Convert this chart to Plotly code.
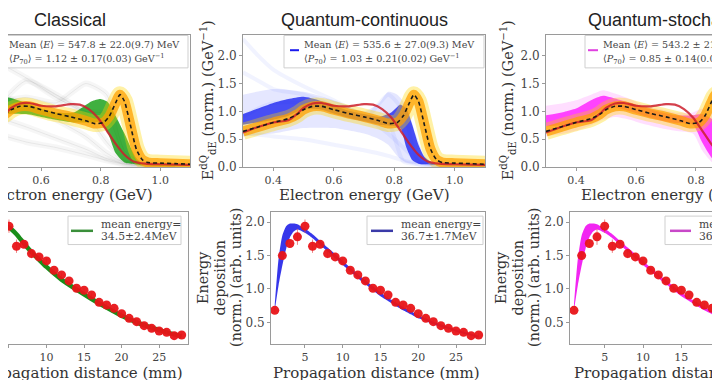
import plotly.graph_objects as go

W, H = 720, 380

# ---------------- top row: electron spectra ----------------
energy_exp = [0.30, 0.35, 0.40, 0.45, 0.48, 0.50, 0.53, 0.56, 0.60, 0.65, 0.70, 0.75, 0.78,
              0.81, 0.83, 0.85, 0.865, 0.88, 0.90, 0.92, 0.94, 0.96, 1.00, 1.05, 1.10]
spectrum_exp = [0.64, 0.72, 0.80, 0.87, 0.95, 1.03, 1.09, 1.09, 1.03, 0.96, 0.90, 0.83, 0.78,
                0.80, 0.92, 1.15, 1.30, 1.18, 0.75, 0.32, 0.13, 0.08, 0.07, 0.06, 0.05]

energy_ref = [0.30, 0.35, 0.40, 0.45, 0.48, 0.50, 0.53, 0.56, 0.60, 0.65, 0.70, 0.73, 0.76,
              0.79, 0.82, 0.85, 0.88, 0.91, 0.95, 1.00, 1.10]
spectrum_ref = [0.62, 0.72, 0.80, 0.84, 0.96, 1.06, 1.14, 1.15, 1.10, 1.09, 1.13, 1.12, 1.04,
                0.89, 0.66, 0.42, 0.22, 0.10, 0.06, 0.05, 0.04]

# classical ensemble
cl_energy_grey = [0.45, 0.55, 0.65, 0.75, 0.82, 0.88, 0.95, 1.05]
cl_grey_1 = [1.90, 1.60, 1.25, 0.95, 0.45, 0.12, 0.04, 0.02]
cl_grey_2 = [1.30, 1.12, 0.85, 0.55, 0.25, 0.08, 0.03, 0.02]
cl_grey_3 = [0.90, 0.72, 0.52, 0.32, 0.15, 0.06, 0.02, 0.02]
cl_grey_4 = [1.15, 1.25, 1.15, 1.50, 1.30, 0.30, 0.05, 0.02]
cl_grey_5 = [1.05, 1.55, 1.30, 1.00, 0.95, 0.20, 0.04, 0.02]
cl_grey_6 = [0.60, 0.45, 0.35, 0.22, 0.12, 0.05, 0.02, 0.01]
cl_energy = [0.45, 0.49, 0.55, 0.60, 0.65, 0.71, 0.77, 0.80, 0.825, 0.85, 0.88, 0.915, 0.94, 1.00, 1.10]
cl_upper = [1.20, 1.25, 1.15, 1.05, 0.98, 0.98, 1.18, 1.22, 1.16, 0.92, 0.60, 0.20, 0.06, 0.04, 0.04]
cl_lower = [0.85, 0.95, 0.95, 0.90, 0.85, 0.80, 0.80, 0.80, 0.60, 0.25, 0.08, 0.05, 0.03, 0.02, 0.02]

# quantum-continuous ensemble
qc_energy = [0.30, 0.35, 0.40, 0.45, 0.50, 0.55, 0.60, 0.65, 0.70, 0.75, 0.79, 0.82, 0.84,
             0.86, 0.88, 0.90, 0.93, 1.00, 1.10]
qc_upper = [0.95, 1.05, 1.15, 1.22, 1.26, 1.20, 1.10, 1.01, 0.95, 0.90, 0.98, 1.12, 1.05,
            0.75, 0.40, 0.18, 0.07, 0.04, 0.03]
qc_lower = [0.76, 0.80, 0.85, 0.92, 1.04, 1.04, 0.96, 0.88, 0.82, 0.76, 0.74, 0.70, 0.35,
            0.12, 0.06, 0.05, 0.04, 0.03, 0.02]
qc_energy_wide = [0.30, 0.40, 0.50, 0.60, 0.70, 0.75, 0.78, 0.81, 0.84, 0.87, 0.90, 0.93, 1.00, 1.10]
qc_wide_upper = [1.30, 1.40, 1.35, 1.20, 1.00, 1.15, 1.35, 1.30, 1.10, 0.60, 0.20, 0.06, 0.04, 0.03]
qc_wide_lower = [0.55, 0.60, 0.70, 0.70, 0.60, 0.50, 0.40, 0.20, 0.08, 0.05, 0.04, 0.03, 0.02, 0.02]
qc_energy_lines = [0.30, 0.35, 0.40, 0.50, 0.60, 0.70, 0.78, 0.83, 0.88, 0.95, 1.10]
qc_line_1 = [2.30, 2.00, 1.75, 1.45, 1.20, 0.90, 0.60, 0.35, 0.10, 0.03, 0.02]
qc_line_2 = [1.70, 1.55, 1.40, 1.30, 1.10, 0.85, 1.30, 1.00, 0.10, 0.03, 0.02]
qc_line_3 = [0.60, 0.58, 0.55, 0.50, 0.40, 0.30, 0.20, 0.12, 0.05, 0.02, 0.02]
qc_line_4 = [0.90, 1.05, 1.15, 1.15, 1.00, 0.88, 0.80, 0.10, 0.05, 0.03, 0.02]

# quantum-stochastic ensemble
qs_energy = [0.30, 0.36, 0.40, 0.45, 0.49, 0.53, 0.58, 0.62, 0.68, 0.73, 0.79, 0.82, 0.855,
             0.89, 0.92, 0.96, 1.00, 1.10]
qs_upper = [0.93, 0.99, 1.05, 1.20, 1.28, 1.23, 1.15, 1.08, 0.99, 0.93, 0.93, 0.95, 0.85,
            0.45, 0.15, 0.06, 0.04, 0.03]
qs_lower = [0.73, 0.76, 0.81, 0.90, 1.03, 1.07, 1.00, 0.93, 0.84, 0.79, 0.76, 0.45, 0.15,
            0.06, 0.04, 0.03, 0.02, 0.02]
qs_wide_upper = [1.10, 1.15, 1.20, 1.30, 1.38, 1.32, 1.22, 1.12, 1.04, 0.98, 0.98, 1.05, 1.00,
                 0.70, 0.30, 0.08, 0.05, 0.04]
qs_wide_lower = [0.55, 0.60, 0.65, 0.75, 0.85, 0.90, 0.85, 0.78, 0.70, 0.65, 0.60, 0.30, 0.08,
                 0.04, 0.03, 0.02, 0.02, 0.02]

# ---------------- bottom row: energy deposition ----------------
distance_exp = list(range(1, 29))
edep_exp = [0.68, 1.50, 1.68, 1.78, 1.94, 1.64, 1.67, 1.53, 1.48, 1.42, 1.28, 1.21, 1.12, 1.01,
            0.98, 0.91, 0.80, 0.76, 0.71, 0.63, 0.56, 0.51, 0.45, 0.41, 0.37, 0.35, 0.30, 0.31]
edep_err = [0.03, 0.05, 0.06, 0.12, 0.10, 0.10, 0.06, 0.07, 0.04, 0.04, 0.03, 0.03, 0.03, 0.03,
            0.03, 0.03, 0.03, 0.03, 0.03, 0.03, 0.03, 0.03, 0.03, 0.03, 0.03, 0.03, 0.03, 0.03]

distance_model = [1, 1.5, 2, 2.5, 3, 3.5, 4, 5, 6, 7, 8, 9, 10, 11, 12, 13, 14, 15, 16, 17, 18,
                  19, 20, 21, 22, 23, 24, 25, 26, 27, 28]
qc_edep_upper = [0.78, 1.45, 1.80, 1.94, 1.98, 1.98, 1.97, 1.90, 1.82, 1.72, 1.62, 1.52, 1.42,
                 1.32, 1.22, 1.13, 1.04, 0.95, 0.87, 0.80, 0.73, 0.67, 0.61, 0.56, 0.51, 0.47,
                 0.43, 0.39, 0.36, 0.33, 0.30]
qc_edep_lower = [0.68, 1.05, 1.35, 1.60, 1.77, 1.86, 1.89, 1.84, 1.76, 1.66, 1.56, 1.46, 1.36,
                 1.26, 1.16, 1.07, 0.98, 0.89, 0.82, 0.75, 0.68, 0.62, 0.56, 0.52, 0.47, 0.43,
                 0.40, 0.36, 0.33, 0.30, 0.27]
qs_edep_upper = qc_edep_upper
qs_edep_lower = qc_edep_lower
distance_cl = [1, 2, 3, 4, 5, 6, 7, 8, 9, 10, 12, 14, 16, 18, 20, 22, 24, 26, 28]
cl_edep = [0.70, 1.55, 1.85, 1.95, 1.92, 1.82, 1.68, 1.55, 1.44, 1.33, 1.14, 0.99, 0.85, 0.72,
           0.60, 0.50, 0.42, 0.35, 0.29]

titles = ["Classical", "Quantum-continuous", "Quantum-stochastic"]
stats_E = ["547.8 ± 22.0(9.7)", "535.6 ± 27.0(9.3)", "543.2 ± 21.0(9.1)"]
stats_P = ["1.12 ± 0.17(0.03)", "1.03 ± 0.21(0.02)", "0.85 ± 0.14(0.02)"]
mean_energy = ["34.5±2.4MeV", "36.7±1.7MeV", "36.7±1.7MeV"]
energy_ticks = [0.4, 0.6, 0.8, 1.0]
dist_ticks = [5, 10, 15, 20, 25]

# ---------------- layout geometry (pixels) ----------------
TOP = (27, 162)
BOT = (208, 342)
panels = {
    "1": (0, 182, [0.489, 1.1], "top"),
    "2": (235, 477, [0.3, 1.1], "top"),
    "3": (538, 720, [0.3, 0.9067], "top"),
    "4": (0, 180, [4.87, 28.84], "bot"),
    "5": (263, 477, [0.5, 28.84], "bot"),
    "6": (562, 720, [0.48, 21.08], "bot"),
}


def px(x):
    return x / W


def py(y):
    return 1 - y / H


SERIF = "DejaVu Serif"
SANS = "Liberation Sans, Arial"
SPINE = "#9a9a9a"

fig = go.Figure()


def ax(n):
    return dict(xaxis="x" if n == "1" else "x" + n, yaxis="y" if n == "1" else "y" + n)


def band(n, x, lo, hi, color):
    fig.add_trace(go.Scatter(x=x + x[::-1], y=hi + lo[::-1], fill="toself", fillcolor=color,
                             mode="lines", line=dict(width=0, shape="spline", smoothing=0.6),
                             hoverinfo="skip", showlegend=False, **ax(n)))


def line(n, x, y, color, width, dash=None, shape="spline"):
    fig.add_trace(go.Scatter(x=x, y=y, mode="lines",
                             line=dict(color=color, width=width, dash=dash, shape=shape, smoothing=0.6),
                             hoverinfo="skip", showlegend=False, **ax(n)))


def common_top(n):
    line(n, energy_exp, spectrum_exp, "rgba(255,215,0,0.35)", 17)
    line(n, energy_exp, spectrum_exp, "rgba(255,160,0,0.75)", 10)
    line(n, energy_ref, spectrum_ref, "rgba(205,30,45,0.85)", 2.2)
    line(n, energy_exp, spectrum_exp, "#1a1a1a", 1.6, dash="4px,3px")


# classical
for g in [cl_grey_1, cl_grey_2, cl_grey_3, cl_grey_4, cl_grey_5, cl_grey_6]:
    line("1", cl_energy_grey, g, "rgba(130,130,130,0.07)", 6)
    line("1", cl_energy_grey, g, "rgba(110,110,110,0.10)", 1)
band("1", cl_energy, cl_lower, cl_upper, "rgba(0,150,0,0.75)")
common_top("1")

# quantum-continuous
for g in [qc_line_1, qc_line_2, qc_line_3, qc_line_4]:
    line("2", qc_energy_lines, g, "rgba(60,80,255,0.07)", 4)
band("2", qc_energy_wide, qc_wide_lower, qc_wide_upper, "rgba(40,60,255,0.12)")
band("2", qc_energy, qc_lower, qc_upper, "rgba(10,20,240,0.72)")
common_top("2")

# quantum-stochastic
band("3", qs_energy, qs_wide_lower, qs_wide_upper, "rgba(255,0,255,0.13)")
band("3", qs_energy, qs_lower, qs_upper, "rgba(255,0,255,0.7)")
common_top("3")

# bottom row models
line("4", distance_cl, cl_edep, "rgba(0,130,0,0.9)", 4.5)
band("5", distance_model, qc_edep_lower, qc_edep_upper, "rgba(20,20,230,0.85)")
band("6", distance_model, qs_edep_lower, qs_edep_upper, "rgba(240,0,240,0.85)")

for n in ["4", "5", "6"]:
    fig.add_trace(go.Scatter(
        x=distance_exp, y=edep_exp, mode="markers",
        marker=dict(color="rgba(232,20,24,0.95)", size=9),
        error_y=dict(type="data", array=edep_err, color="rgba(230,80,80,0.7)", thickness=1, width=0),
        hoverinfo="skip", showlegend=False, **ax(n)))

layout = dict(width=W, height=H, margin=dict(l=0, r=0, t=0, b=0),
              paper_bgcolor="white", plot_bgcolor="white", showlegend=False)

for n, (x0, x1, xr, row) in panels.items():
    y0, y1 = TOP if row == "top" else BOT
    xname = "xaxis" if n == "1" else "xaxis" + n
    yname = "yaxis" if n == "1" else "yaxis" + n
    left = n in ("1", "4")
    right = n in ("3", "6")
    xa = dict(domain=[px(x0), px(x1)], range=xr, anchor="y" if n == "1" else "y" + n,
              showline=True, linecolor=SPINE, linewidth=1, mirror=True,
              ticks="outside", ticklen=3, tickcolor=SPINE, showgrid=False, zeroline=False,
              tickfont=dict(family=SERIF, size=11, color="#444"))
    if row == "top":
        xa.update(tickvals=energy_ticks, ticktext=[f"{v:.1f}" for v in energy_ticks])
        ya_range, ytv = [0, 2.38], [0.0, 0.5, 1.0, 1.5, 2.0]
    else:
        xa.update(tickvals=dist_ticks, ticktext=[str(v) for v in dist_ticks])
        ya_range, ytv = [0.18, 2.15], [0.5, 1.0, 1.5, 2.0]
    ya = dict(domain=[py(y1), py(y0)], range=ya_range, anchor="x" if n == "1" else "x" + n,
              showline=True, linecolor=SPINE, linewidth=1, showgrid=False, zeroline=False,
              tickvals=ytv, ticktext=[f"{v:.1f}" for v in ytv],
              tickfont=dict(family=SERIF, size=12, color="#444"))
    if left:
        ya.update(side="right", showticklabels=False, ticks="")
    else:
        ya.update(ticks="outside", ticklen=3, tickcolor=SPINE, mirror=not right)
    layout[xname] = xa
    layout[yname] = ya

ann = []
shapes = []


def text(x, y, s, size, family=SERIF, color="#333", xanchor="center", angle=0):
    ann.append(dict(x=px(x), y=py(y), xref="paper", yref="paper", text=s, showarrow=False,
                    xanchor=xanchor, yanchor="middle", textangle=angle,
                    font=dict(family=family, size=size, color=color)))


# titles and axis labels
centres_title = [62, 356, 660]
centres_top = [59, 356, 658]
centres_bot = [71, 369, 669]
for i in range(3):
    text(centres_title[i], 12, titles[i], 18, family=SANS, color="#222")
    text(centres_top[i], 190, "Electron energy (GeV)", 15, color="#333")
    text(centres_bot[i], 372, "Propagation distance (mm)", 15, color="#333")

ytitle_top = "E<sup>dQ</sup><sub>dE</sub> (norm.) (GeV<sup>−1</sup>)"
for xc in [200, 500]:
    text(xc, 94, ytitle_top, 14.5, angle=-90)
for x0 in [195, 493]:
    for k, s in enumerate(["Energy", "deposition", "(norm.) (arb. units)"]):
        text(x0 + 16.5 * k, 275, s, 14.3, angle=-90)

# top legends
top_boxes = [(-20, 180), (276, 476), (577, 770)]
top_handles = [(-16, -7), (282, 291), (580, 590)]
handle_cols = ["green", "#1a1aee", "#e040e0"]
for i in range(3):
    bx0, bx1 = top_boxes[i]
    shapes.append(dict(type="rect", xref="paper", yref="paper", x0=px(bx0), x1=px(bx1),
                       y0=py(61), y1=py(28), line=dict(color="#cfcfcf", width=1),
                       fillcolor="rgba(255,255,255,0.8)", layer="above"))
    hx0, hx1 = top_handles[i]
    shapes.append(dict(type="line", xref="paper", yref="paper", x0=px(hx0), x1=px(hx1),
                       y0=py(43), y1=py(43), line=dict(color=handle_cols[i], width=2), layer="above"))
    l1 = "Mean ⟨<i>E</i>⟩ = " + stats_E[i] + " MeV"
    l2 = "⟨<i>P</i><sub>70</sub>⟩ = " + stats_P[i] + " GeV<sup>−1</sup>"
    if i == 0:
        text(174, 37, l1, 9.6, color="#444", xanchor="right")
        text(159, 52, l2, 9.6, color="#444", xanchor="right")
    else:
        text(hx1 + 3, 37, l1, 9.6, color="#444", xanchor="left")
        text(hx1 + 3, 52, l2, 9.6, color="#444", xanchor="left")

# bottom legends
bot_boxes = [(60, 173), (359, 475), (657, 775)]
bot_handles = [(63, 85), (363, 385), (662, 683)]
bot_cols = ["#3a8f3a", "#3a3aa8", "#c848c8"]
for i in range(3):
    bx0, bx1 = bot_boxes[i]
    shapes.append(dict(type="rect", xref="paper", yref="paper", x0=px(bx0), x1=px(bx1),
                       y0=py(241), y1=py(212), line=dict(color="#cfcfcf", width=1),
                       fillcolor="rgba(255,255,255,0.8)", layer="above"))
    hx0, hx1 = bot_handles[i]
    shapes.append(dict(type="line", xref="paper", yref="paper", x0=px(hx0), x1=px(hx1),
                       y0=py(227), y1=py(227), line=dict(color=bot_cols[i], width=2.5), layer="above"))
    text(hx1 + 6, 221, "mean energy=", 10.8, color="#444", xanchor="left")
    text(hx1 + 6, 233, mean_energy[i], 10.8, color="#444", xanchor="left")

layout["annotations"] = ann
layout["shapes"] = shapes
fig.update_layout(**layout)
fig.write_html("out.html")
